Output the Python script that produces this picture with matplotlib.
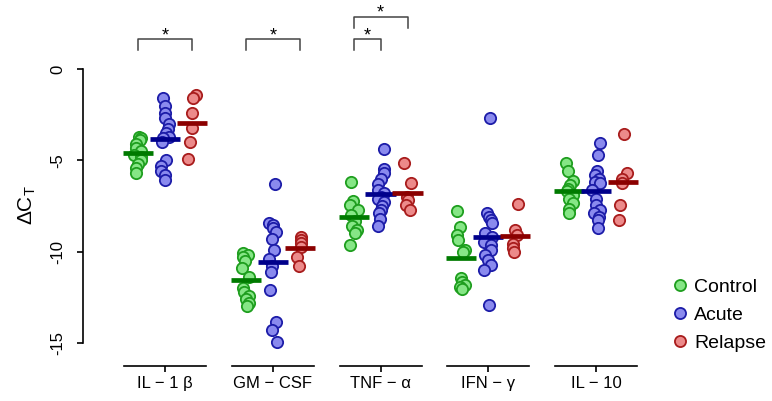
import matplotlib
matplotlib.use('Agg')
import matplotlib.pyplot as plt
from matplotlib.lines import Line2D
import numpy as np

plt.rcParams['font.family'] = ['Liberation Sans', 'DejaVu Sans']
plt.rcParams['mathtext.fontset'] = 'custom'
plt.rcParams['mathtext.rm'] = 'Liberation Sans'
plt.rcParams['mathtext.it'] = 'Liberation Sans'

CYTOKINES = ["IL \u2212 1 \u03b2", "GM \u2212 CSF", "TNF \u2212 \u03b1", "IFN \u2212 \u03b3", "IL \u2212 10"]
GROUPS = ["Control", "Acute", "Relapse"]

CONTROL = [
    [-3.7, -3.8, -3.9, -4.1, -4.3, -4.5, -4.7, -4.8, -5.0, -5.2, -5.4, -5.7],
    [-10.1, -10.2, -10.3, -10.5, -10.9, -11.4, -12.0, -12.2, -12.4, -12.6, -12.8, -13.0],
    [-6.2, -7.2, -7.45, -7.7, -8.0, -8.3, -8.6, -8.8, -9.0, -9.65],
    [-7.75, -8.65, -9.1, -9.35, -9.9, -10.0, -11.45, -11.65, -11.85, -11.95, -12.05],
    [-5.15, -5.6, -6.15, -6.35, -6.55, -6.7, -6.9, -7.1, -7.35, -7.65, -7.9],
]
ACUTE = [
    [-1.6, -2.0, -2.4, -2.7, -3.0, -3.3, -3.5, -3.7, -3.8, -4.0, -5.0, -5.3, -5.6, -5.8, -6.1],
    [-6.3, -8.45, -8.55, -8.7, -8.9, -9.3, -9.9, -10.4, -10.8, -11.1, -12.1, -13.85, -14.3, -14.95],
    [-4.4, -5.5, -5.7, -6.0, -6.3, -6.6, -6.8, -7.0, -7.1, -7.3, -7.5, -7.7, -7.9, -8.2, -8.6],
    [-2.7, -7.9, -8.1, -8.25, -8.45, -9.0, -9.2, -9.45, -9.65, -9.9, -10.2, -10.45, -10.75, -11.0, -12.9],
    [-4.05, -4.7, -5.6, -5.8, -6.0, -6.2, -6.25, -6.65, -7.1, -7.45, -7.7, -7.9, -8.1, -8.25, -8.7],
]
RELAPSE = [
    [-1.4, -1.6, -2.4, -3.25, -4.0, -4.95],
    [-9.2, -9.35, -9.55, -9.75, -10.3, -10.8],
    [-5.15, -6.25, -7.0, -7.15, -7.45, -7.7],
    [-7.4, -8.8, -9.1, -9.6, -9.8, -10.0],
    [-3.55, -5.7, -6.0, -6.25, -7.45, -8.25],
]
# significant comparisons: (cytokine index, group a, group b, bracket level)
SIGNIF = [(0, 0, 2, 0), (1, 0, 2, 0), (2, 0, 1, 0), (2, 0, 2, 1)]

FILL = ["#86E686", "#8A8AEE", "#EC8A8A"]
EDGE = ["#1E9E1E", "#1C1CA8", "#A81C1C"]
MEANC = ["#007A00", "#00008B", "#8B0000"]
OFFS = [-0.25, 0.0, 0.25]

fig = plt.figure(figsize=(7.72, 4.01), dpi=100)
ax = fig.add_axes([83/772, 1-366/401, 567/772, 366/401])
ax.set_xlim(0.239, 5.50)
ax.set_ylim(-16.26, 3.78)

rng = np.random.default_rng(7)
data = [CONTROL, ACUTE, RELAPSE]
for i in range(len(CYTOKINES)):
    for g in range(3):
        vals = np.array(data[g][i])
        xs = i + 1 + OFFS[g] + rng.uniform(-0.04, 0.04, len(vals))
        ax.scatter(xs, vals, s=66, facecolor=FILL[g], edgecolor=EDGE[g],
                   linewidth=1.3, zorder=3)
for i in range(len(CYTOKINES)):
    for g in range(3):
        m = np.mean(data[g][i])
        c = i + 1 + OFFS[g]
        ax.plot([c-0.14, c+0.14], [m, m], color=MEANC[g], lw=3.4,
                solid_capstyle='butt', zorder=4)

# brackets
for ci, a, b, lev in SIGNIF:
    x0, x1 = ci + 1 + OFFS[a], ci + 1 + OFFS[b]
    ytop = 1.64 + lev*1.22
    ax.plot([x0, x0, x1, x1], [ytop-0.6, ytop, ytop, ytop-0.6],
            color="#444444", lw=1.1, clip_on=False)
    ax.text((x0+x1)/2, ytop-0.06, "*", ha="center", va="baseline",
            fontsize=13, color="black", clip_on=False)

# axes styling
for sp in ["top", "right", "bottom"]:
    ax.spines[sp].set_visible(False)
ax.spines["left"].set_bounds(-15, 0)
ax.spines["left"].set_linewidth(1.2)
ax.set_yticks([0, -5, -10, -15])
ax.set_yticklabels(["0", "-5", "-10", "-15"], rotation=90, va="center")
ax.tick_params(axis="y", length=4.5, width=1.2, labelsize=12, pad=8)
ax.set_xticks(range(1, len(CYTOKINES)+1))
ax.set_xticklabels(CYTOKINES)
ax.tick_params(axis="x", length=4.5, width=1.2, labelsize=12, pad=3)
ybot = ax.get_ylim()[0]
for i in range(len(CYTOKINES)):
    ax.plot([i+1-0.38, i+1+0.38], [ybot, ybot], color="black", lw=1.2, clip_on=False)
ax.set_ylabel(r"$\mathrm{\Delta C_T}$", fontsize=15)
ax.yaxis.set_label_coords(-0.08, 0.44)

handles = [Line2D([], [], ls="none", marker="o", markersize=8,
                  markerfacecolor=FILL[g], markeredgecolor=EDGE[g], markeredgewidth=1.3)
           for g in range(3)]
fig.legend(handles, GROUPS, loc="center left", bbox_to_anchor=(662/772, 1-315/401),
           frameon=False, fontsize=14, handletextpad=0.25, labelspacing=0.55,
           handlelength=1.0, borderaxespad=0)

fig.savefig("out.png", dpi=100, facecolor="white")
